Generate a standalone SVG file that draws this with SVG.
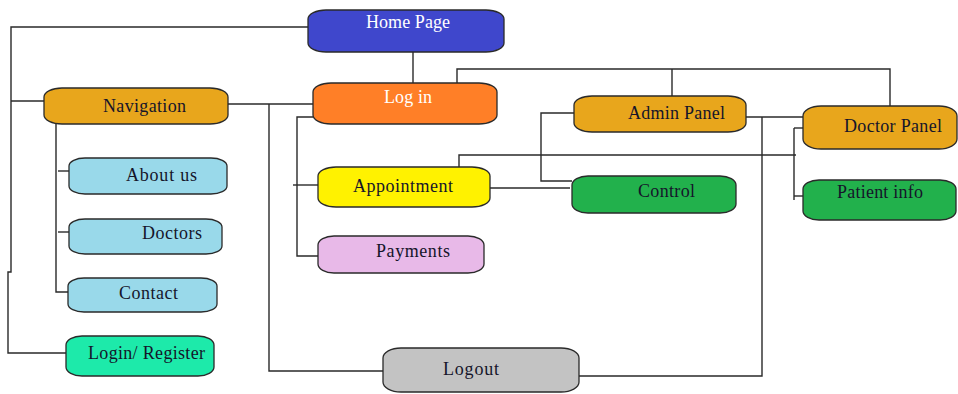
<svg xmlns="http://www.w3.org/2000/svg" width="958" height="394" viewBox="0 0 958 394">
  <style>
    .box { stroke: #2a2a2a; stroke-width: 1.3; }
    .lbl { font-family: "Liberation Serif", "Times New Roman", serif; font-size: 18px; fill: #15152a; text-anchor: middle; }
    .lbl.light { fill: #ffffff; }
    .wire { fill: none; stroke: #2a2a2a; stroke-width: 1.4; }
  </style>
  <rect width="958" height="394" fill="#ffffff"/>

  <!-- connectors -->
  <g id="connectors">
    <path class="wire" d="M308,27 H11 V272 H8 V353 H66"/>
    <path class="wire" d="M11,101 H44"/>
    <path class="wire" d="M413,52 V83"/>
    <path class="wire" d="M457,83 V69 H890 V106"/>
    <path class="wire" d="M672,69 V96"/>
    <path class="wire" d="M228,104 H313"/>
    <path class="wire" d="M269,104 V371 H383"/>
    <path class="wire" d="M313,117 H297 V256 H319"/>
    <path class="wire" d="M293,185 H319"/>
    <path class="wire" d="M56,124 V292 H68"/>
    <path class="wire" d="M58,171 H69"/>
    <path class="wire" d="M58,232 H69"/>
    <path class="wire" d="M746,117 H803"/>
    <path class="wire" d="M762,117 V376 H579"/>
    <path class="wire" d="M459,167 V155 H796"/>
    <path class="wire" d="M794,128 H803"/>
    <path class="wire" d="M794,128 V200"/>
    <path class="wire" d="M794,196 H805"/>
    <path class="wire" d="M490,188 H570"/>
    <path class="wire" d="M574,113 H541 V181 H572"/>
  </g>

  <g id="home-page">
    <rect class="box" x="308" y="10" width="196" height="42" rx="18" ry="9" fill="#3f47cc"/>
    <text class="lbl light" x="408" y="28" textLength="84">Home Page</text>
  </g>
  <g id="log-in">
    <rect class="box" x="313" y="83" width="184" height="41" rx="18" ry="9" fill="#ff7f27"/>
    <text class="lbl light" x="408" y="103" textLength="48">Log in</text>
  </g>
  <g id="navigation">
    <rect class="box" x="44" y="88" width="184" height="36" rx="18" ry="9" fill="#e8a61c"/>
    <text class="lbl" x="144.5" y="112" textLength="83">Navigation</text>
  </g>
  <g id="about-us">
    <rect class="box" x="69" y="158" width="158" height="36" rx="16" ry="8" fill="#99d9ea"/>
    <text class="lbl" x="161.5" y="181" textLength="71">About us</text>
  </g>
  <g id="doctors">
    <rect class="box" x="69" y="219" width="153" height="35" rx="16" ry="8" fill="#99d9ea"/>
    <text class="lbl" x="172" y="239" textLength="60">Doctors</text>
  </g>
  <g id="contact">
    <rect class="box" x="68" y="278" width="149" height="34" rx="16" ry="8" fill="#99d9ea"/>
    <text class="lbl" x="148.5" y="299" textLength="59">Contact</text>
  </g>
  <g id="login-register">
    <rect class="box" x="66" y="336" width="148" height="40" rx="16" ry="9" fill="#1deaaa"/>
    <text class="lbl" x="146.5" y="359" textLength="117">Login/ Register</text>
  </g>
  <g id="appointment">
    <rect class="box" x="318" y="167" width="172" height="40" rx="18" ry="9" fill="#fff200"/>
    <text class="lbl" x="403" y="192" textLength="100">Appointment</text>
  </g>
  <g id="payments">
    <rect class="box" x="318" y="236" width="166" height="37" rx="16" ry="9" fill="#e8b9e8"/>
    <text class="lbl" x="413" y="257" textLength="74">Payments</text>
  </g>
  <g id="logout">
    <rect class="box" x="383" y="348" width="196" height="44" rx="18" ry="10" fill="#c3c3c3"/>
    <text class="lbl" x="471" y="375" textLength="56">Logout</text>
  </g>
  <g id="admin-panel">
    <rect class="box" x="574" y="96" width="172" height="36" rx="18" ry="9" fill="#e8a61c"/>
    <text class="lbl" x="676.5" y="119" textLength="97">Admin Panel</text>
  </g>
  <g id="control">
    <rect class="box" x="572" y="176" width="164" height="37" rx="16" ry="9" fill="#22b14c"/>
    <text class="lbl" x="666.5" y="197" textLength="57">Control</text>
  </g>
  <g id="doctor-panel">
    <rect class="box" x="803" y="106" width="154" height="43" rx="18" ry="10" fill="#e8a61c"/>
    <text class="lbl" x="893" y="132" textLength="98">Doctor Panel</text>
  </g>
  <g id="patient-info">
    <rect class="box" x="803" y="180" width="153" height="40" rx="16" ry="9" fill="#22b14c"/>
    <text class="lbl" x="880" y="198" textLength="86">Patient info</text>
  </g>
</svg>
